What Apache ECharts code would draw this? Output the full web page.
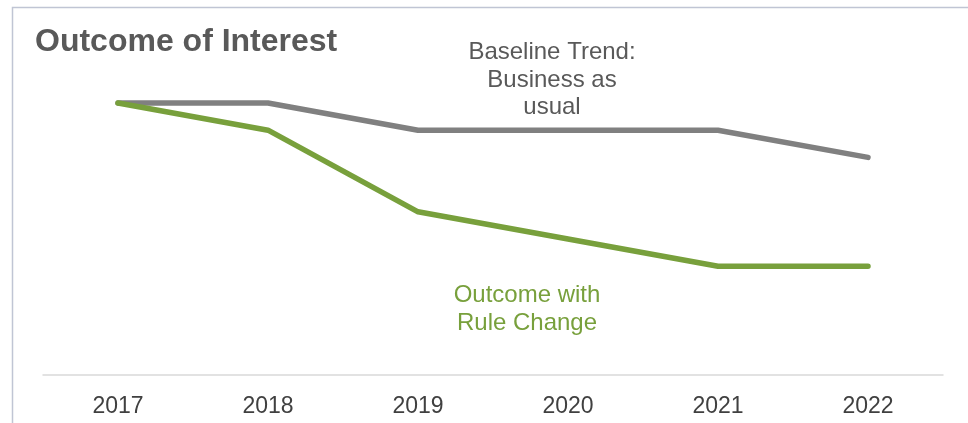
<!DOCTYPE html>
<html><head><meta charset="utf-8">
<script src="https://cdn.jsdelivr.net/npm/echarts@6/dist/echarts.min.js"></script>
<style>html,body{margin:0;padding:0;background:#fff}#c{width:968px;height:423px}</style>
</head><body><div id="c"></div>
<script>
const years = ['2017','2018','2019','2020','2021','2022'];
const baseline = [10, 10, 9, 9, 9, 8];
const ruleChange = [10, 9, 6, 5, 4, 4];
const titleText = 'Outcome of Interest';
const baselineLabel = 'Baseline Trend:\nBusiness as\nusual';
const ruleLabel = 'Outcome with\nRule Change';

const chart = echarts.init(document.getElementById('c'));
const FONT = '"Liberation Sans", Arial, sans-serif';
chart.setOption({
  animation: false,
  grid: {left: 43, right: 25, top: 48.6, bottom: 48},
  xAxis: {
    type: 'category', data: years, boundaryGap: true,
    axisLine: {lineStyle: {color: '#d9d9d9', width: 1.5}},
    axisTick: {show: false},
    axisLabel: {color: '#404040', fontSize: 23, fontFamily: FONT, margin: 20}
  },
  yAxis: {
    type: 'value', min: 0, max: 12, interval: 1,
    show: false, splitLine: {show: false}
  },
  series: [
    {type: 'line', data: baseline, symbol: 'none', lineStyle: {color: '#808080', width: 5.5, cap: 'round', join: 'round'}, z: 2},
    {type: 'line', data: ruleChange, symbol: 'none', lineStyle: {color: '#78a03c', width: 5.5, cap: 'round', join: 'round'}, z: 3}
  ],
  graphic: [
    {type: 'rect', shape: {x: 12.5, y: 7.5, width: 1200, height: 600}, style: {fill: 'none', stroke: '#c0c5d4', lineWidth: 1.5}, silent: true},
    {type: 'text', x: 35, y: 42.5, style: {text: titleText, font: 'bold 32px ' + FONT, fill: '#595959', align: 'left', verticalAlign: 'middle'}},
    {type: 'text', x: 552, y: 39, style: {text: baselineLabel, font: '24px ' + FONT, fill: '#595959', align: 'center', verticalAlign: 'top', lineHeight: 27.5}},
    {type: 'text', x: 527, y: 282, style: {text: ruleLabel, font: '24px ' + FONT, fill: '#78a03c', align: 'center', verticalAlign: 'top', lineHeight: 27.5}}
  ]
});
</script></body></html>
